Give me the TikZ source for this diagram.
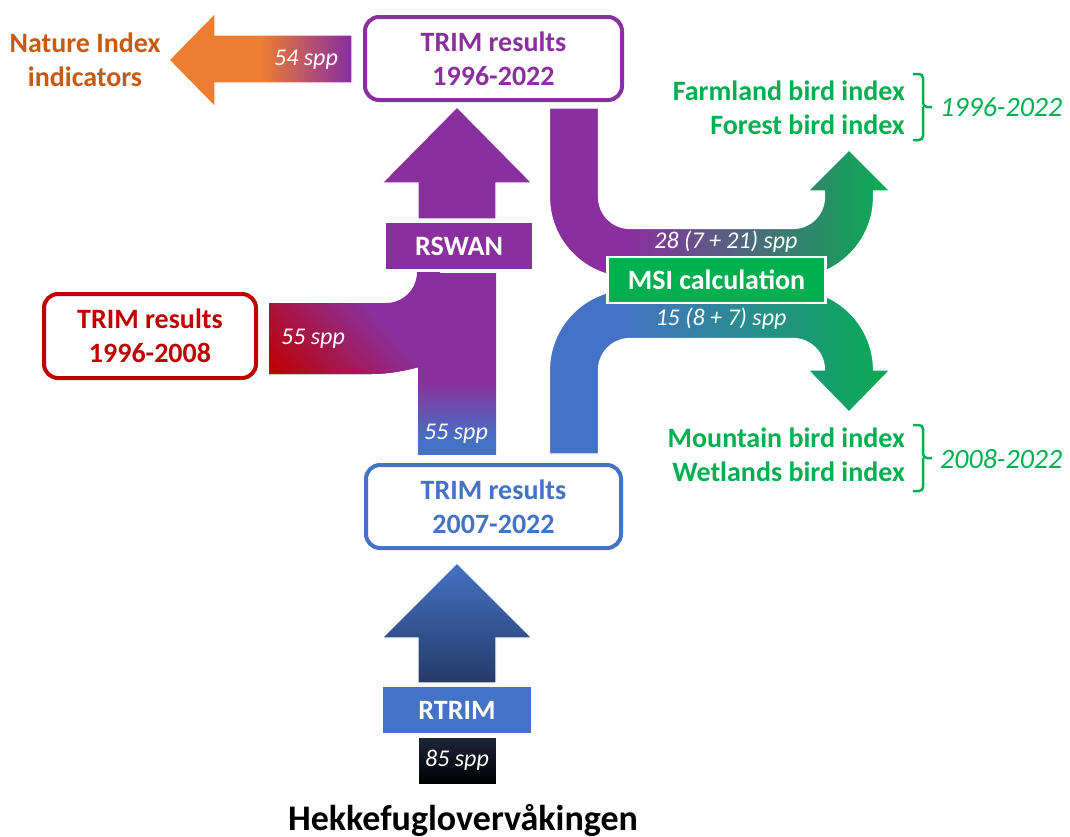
\documentclass[tikz,border=0pt]{standalone}
\usepackage{fontspec}
\setmainfont{Carlito}
\definecolor{cpurple}{RGB}{138,48,158}
\definecolor{cblue}{RGB}{68,114,196}
\definecolor{cred}{RGB}{192,0,0}
\definecolor{corange}{RGB}{237,125,49}
\definecolor{cbrown}{RGB}{197,90,17}
\definecolor{cgreen}{RGB}{0,176,80}
\definecolor{agreen}{RGB}{12,168,86}
\definecolor{cnavy}{RGB}{38,58,104}
\definecolor{cdark}{RGB}{30,38,58}
\pgfdeclarehorizontalshading{orpu}{100bp}{color(0bp)=(corange); color(50bp)=(corange); color(74bp)=(cpurple); color(100bp)=(cpurple)}
\pgfdeclarehorizontalshading{pugr}{100bp}{color(0bp)=(cpurple); color(37bp)=(cpurple); color(73bp)=(agreen); color(100bp)=(agreen)}
\pgfdeclarehorizontalshading{blgr}{100bp}{color(0bp)=(cblue); color(36bp)=(cblue); color(73bp)=(agreen); color(100bp)=(agreen)}
\pgfdeclareverticalshading{shaftsh}{100bp}{color(0bp)=(cblue); color(29bp)=(cblue); color(45bp)=(cpurple); color(100bp)=(cpurple)}
\begin{document}
\begin{tikzpicture}[x=1pt,y=-1pt,
  lab/.style={font=\fontsize{24}{28}\selectfont\itshape, text=white, inner sep=0pt},
  blab/.style={font=\fontsize{28}{34}\selectfont\bfseries, align=center, inner sep=0pt},
  resbox/.style={blab, rounded corners=14pt, line width=4pt, fill=white},
  flow/.style={draw=white, line width=1.2pt},
  bracket/.style={draw=cgreen, line width=2.5pt, rounded corners=4pt},
  datelab/.style={font=\fontsize{28}{34}\selectfont\itshape, text=cgreen, inner sep=0pt, anchor=west},
  idxlab/.style={blab, text=cgreen, anchor=east}]
\useasboundingbox (0,0) rectangle (1070,836);
\fill[white] (0,0) rectangle (1070,836);

% orange arrow to Nature Index
\path[flow, shade, shading=orpu] (169,60) -- (215,13) -- (215,35) -- (352,35) -- (352,83) -- (215,83) -- (215,107) -- cycle;

% purple -> green U flow
\path[flow, shade, shading=pugr] (549.5,108) -- (549.5,197) arc[start angle=180, end angle=90, radius=80.5] -- (793,277.5) arc[start angle=90, end angle=0, radius=80.5] -- (873.5,191) -- (890,191) -- (849,150) -- (808,191) -- (824.5,191) -- (824.5,197) arc[start angle=0, end angle=90, radius=31.5] -- (630,228.5) arc[start angle=90, end angle=180, radius=31.5] -- (598.5,108) -- cycle;

% blue -> green flow
\path[flow, shade, shading=blgr] (549.5,454) -- (549.5,370) arc[start angle=180, end angle=270, radius=80.5] -- (793,289.5) arc[start angle=270, end angle=360, radius=80.5] -- (873.5,370) -- (890,370) -- (849,412) -- (808,370) -- (824.5,370) arc[start angle=0, end angle=-90, radius=31.5] -- (630,338.5) arc[start angle=270, end angle=180, radius=31.5] -- (598.5,454) -- cycle;

% red branch (diagonal red -> purple gradient) and shaft
\begin{scope}
\clip (269,303) -- (386,303) arc[start angle=90, end angle=0, radius=31] -- (440,272) -- (440,367) -- (419,367) .. controls (400,372) and (385,374) .. (371,374) -- (269,374) -- cycle;
\fill[cpurple] (260,260) rectangle (445,380);
\foreach \i in {0,...,39}{
  \pgfmathtruncatemacro\p{\i*100/39}
  \pgfmathsetmacro\ca{269+\i*4}
  \fill[cpurple!\p!cred] (\ca-102.6,260) -- (\ca+5-102.6,260) -- (\ca+5+5.4,380) -- (\ca+5.4,380) -- cycle;
}
\end{scope}
\path[shade, shading=shaftsh] (418,273) rectangle (496,454);

% RSWAN arrow
\path[flow, fill=cpurple] (457,107) -- (532,183) -- (496,183) -- (496,219) -- (418,219) -- (418,183) -- (382,183) -- cycle;

% RTRIM arrow
\path[flow, shade, top color=cblue, bottom color=cnavy] (457,563) -- (532,638) -- (496,638) -- (496,683) -- (418,683) -- (418,638) -- (382,638) -- cycle;

% boxes
\node[resbox, draw=cpurple, text=cpurple, minimum width=257pt, minimum height=83pt] (r9622) at (493.5,58.5) {TRIM results\\1996-2022};
\node[resbox, draw=cred, text=cred, minimum width=212pt, minimum height=84pt] (r9608) at (150,336) {TRIM results\\1996-2008};
\node[resbox, draw=cblue, text=cblue, minimum width=255pt, minimum height=83pt] (r0722) at (493.5,506.5) {TRIM results\\2007-2022};

\node[blab, fill=cgreen, draw=white, line width=2.5pt, text=white, minimum width=218pt, minimum height=46pt] (msi) at (716.5,280) {MSI calculation};
\node[blab, fill=cpurple, draw=white, line width=1.2pt, text=white, minimum width=148pt, minimum height=48pt] (rswan) at (459,246) {RSWAN};
\node[blab, fill=cblue, draw=white, line width=1.2pt, text=white, minimum width=150pt, minimum height=48pt] (rtrim) at (457,710) {RTRIM};
\node[lab, shade, top color=cdark, bottom color=black, draw=white, line width=1pt, minimum width=78pt, minimum height=47pt] (s85) at (457,760.5) {85 spp};

% flow labels
\node[lab] (s54) at (306,60) {54 spp};
\node[lab] (s55a) at (313,339) {55 spp};
\node[lab] (s55b) at (456,434) {55 spp};
\node[lab] (s28) at (726,242) {28 (7 + 21) spp};
\node[lab] (s15) at (721,319) {15 (8 + 7) spp};

% Nature index
\node[blab, text=cbrown] (ni) at (85,60) {Nature Index\\indicators};

% indices
\node[idxlab] (farm) at (905,91) {Farmland bird index};
\node[idxlab] (forest) at (905,125) {Forest bird index};
\node[idxlab] (mount) at (905,438) {Mountain bird index};
\node[idxlab] (wet) at (905,472) {Wetlands bird index};
\draw[bracket] (913,74) -- (923,74) -- (923,107) -- (932,107);
\draw[bracket] (913,140) -- (923,140) -- (923,107);
\draw[bracket] (913,425) -- (923,425) -- (923,458) -- (932,458);
\draw[bracket] (913,491) -- (923,491) -- (923,458);
\node[datelab] (d1) at (940,107) {1996-2022};
\node[datelab] (d2) at (940,459) {2008-2022};

% title
\node[font=\fontsize{36}{40}\selectfont\bfseries, anchor=base, inner sep=0pt] (title) at (463,830) {Hekkefuglovervåkingen};
\end{tikzpicture}
\end{document}
